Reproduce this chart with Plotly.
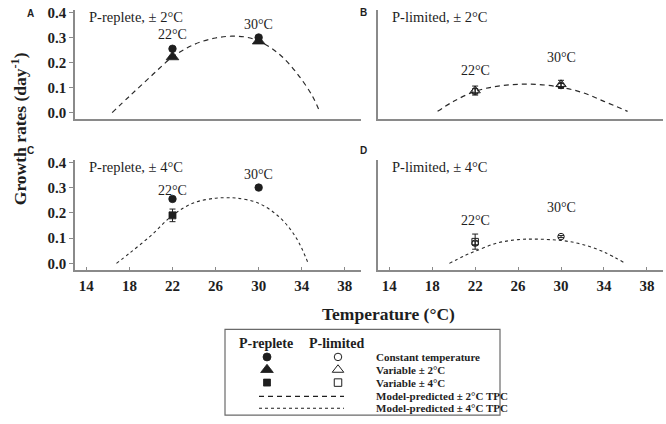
import plotly.graph_objects as go

# ---------------- data ----------------
temps = [22, 30]
temp_labels = ["22°C", "30°C"]

# Panel A: P-replete, +/-2
A_const = [0.255, 0.300]
A_var2 = [0.222, 0.285]
A_var2_err = [0.006, 0.006]
# Panel B: P-limited, +/-2
B_const = [0.085, 0.108]
B_const_err = [0.010, 0.008]
B_var2 = [0.088, 0.113]
B_var2_err = [0.018, 0.016]
# Panel C: P-replete, +/-4
C_const = [0.255, 0.300]
C_var4_T = [22]
C_var4 = [0.190]
C_var4_err = [0.025]
# Panel D: P-limited, +/-4
D_const = [0.080, 0.106]
D_const_err = [0.008, 0.004]
D_var4_T = [22]
D_var4 = [0.086]
D_var4_err = [0.030]

# Model-predicted TPC curves
curveA_T = [16.4, 18, 20, 22, 24, 26, 27.5, 29, 30.5, 32, 33.5, 35, 35.7]
curveA_y = [0.0, 0.065, 0.145, 0.222, 0.272, 0.298, 0.305, 0.300, 0.275, 0.230, 0.160, 0.065, 0.0]
curveB_T = [18.5, 20, 22, 24, 26, 28, 30, 32, 34, 36.2]
curveB_y = [0.005, 0.045, 0.085, 0.105, 0.113, 0.112, 0.101, 0.080, 0.045, 0.005]
curveC_T = [16.8, 18, 20, 22, 24, 26, 27, 28, 30, 32, 33.5, 34.6]
curveC_y = [0.0, 0.040, 0.110, 0.190, 0.240, 0.258, 0.260, 0.258, 0.238, 0.180, 0.100, 0.0]
curveD_T = [19.6, 21, 22, 24, 26, 27.5, 29, 30.5, 32, 34, 36]
curveD_y = [0.0, 0.030, 0.048, 0.080, 0.094, 0.096, 0.094, 0.088, 0.075, 0.045, 0.0]

x_ticks = [14, 18, 22, 26, 30, 34, 38]
y_ticks = [0.0, 0.1, 0.2, 0.3, 0.4]
y_ticktext = ["0.0", "0.1", "0.2", "0.3", "0.4"]

panel_titles = ["P-replete, ± 2°C", "P-limited, ± 2°C", "P-replete, ± 4°C", "P-limited, ± 4°C"]
panel_letters = ["A", "B", "C", "D"]
label_y = [[0.31, 0.35], [0.17, 0.22], [0.29, 0.35], [0.17, 0.22]]

legend_rows = ["Constant temperature", "Variable ± 2°C", "Variable ± 4°C",
               "Model-predicted ± 2°C TPC", "Model-predicted ± 4°C TPC"]

# ---------------- style ----------------
W, H = 666, 424
SERIF = "Liberation Serif"
INK = "#1e1e1e"
AXC = "#8a8a8a"

def px(x):
    return x / W

def py(y):
    return 1 - y / H

fig = go.Figure()

axes = [("x", "y"), ("x2", "y2"), ("x3", "y3"), ("x4", "y4")]

def add_curve(i, T, Y, dash):
    xa, ya = axes[i]
    fig.add_trace(go.Scatter(x=T, y=Y, mode="lines", xaxis=xa, yaxis=ya,
                             line=dict(color="#2a2a2a", width=1.2 if dash != "dot" else 1.1,
                                       dash=dash, shape="spline", smoothing=1.0),
                             showlegend=False, hoverinfo="skip"))

def add_pts(i, T, Y, symbol, size, err=None, lw=1.2):
    xa, ya = axes[i]
    kw = {}
    if err is not None:
        kw["error_y"] = dict(type="data", array=err, visible=True, color=INK, thickness=1, width=3)
    fig.add_trace(go.Scatter(x=T, y=Y, mode="markers", xaxis=xa, yaxis=ya,
                             marker=dict(symbol=symbol, size=size, color=INK,
                                         line=dict(color=INK, width=lw)),
                             showlegend=False, hoverinfo="skip", **kw))

DASH2 = "5px,4px"
add_curve(0, curveA_T, curveA_y, DASH2)
add_curve(1, curveB_T, curveB_y, DASH2)
add_curve(2, curveC_T, curveC_y, "dot")
add_curve(3, curveD_T, curveD_y, "dot")

# A
add_pts(0, temps, A_var2, "triangle-up", 11, A_var2_err, 0.8)
add_pts(0, temps, A_const, "circle", 7.5, None, 0.8)
# B
add_pts(1, temps, B_var2, "triangle-up-open", 9, B_var2_err, 1)
add_pts(1, temps, B_const, "circle-open", 6.5, B_const_err, 1)
# C
add_pts(2, C_var4_T, C_var4, "square", 7, C_var4_err, 0.8)
add_pts(2, temps, C_const, "circle", 7.5, None, 0.8)
# D
add_pts(3, D_var4_T, D_var4, "square-open", 6.5, D_var4_err, 1)
add_pts(3, temps, D_const, "circle-open", 6.5, D_const_err, 1)

# ---------------- legend (hidden pixel axes) ----------------
LX0, LX1, LY0, LY1 = 225, 500, 329, 416
leg_col_rep, leg_col_lim, leg_text_x = 267, 338, 374
row_y = [357, 370, 383, 397, 409]
leg_syms = [("circle", "circle-open", 8, 7.5),
            ("triangle-up", "triangle-up-open", 11, 10),
            ("square", "square-open", 7, 7.5)]
for k, (s_full, s_open, sz1, sz2) in enumerate(leg_syms):
    fig.add_trace(go.Scatter(x=[leg_col_rep], y=[row_y[k]], mode="markers", xaxis="x5", yaxis="y5",
                             marker=dict(symbol=s_full, size=sz1, color=INK, line=dict(color=INK, width=0.8)),
                             showlegend=False, hoverinfo="skip"))
    fig.add_trace(go.Scatter(x=[leg_col_lim], y=[row_y[k]], mode="markers", xaxis="x5", yaxis="y5",
                             marker=dict(symbol=s_open, size=sz2, color=INK, line=dict(color=INK, width=1)),
                             showlegend=False, hoverinfo="skip"))
fig.add_trace(go.Scatter(x=[259, 344], y=[row_y[3], row_y[3]], mode="lines", xaxis="x5", yaxis="y5",
                         line=dict(color=INK, width=1.2, dash=DASH2), showlegend=False, hoverinfo="skip"))
fig.add_trace(go.Scatter(x=[259, 344], y=[row_y[4], row_y[4]], mode="lines", xaxis="x5", yaxis="y5",
                         line=dict(color=INK, width=1.1, dash="dot"), showlegend=False, hoverinfo="skip"))

# ---------------- layout ----------------
xdom_left = [px(75), px(361)]
xdom_right = [px(378), px(663)]
ydom_top = [py(116), py(5)]
ydom_bot = [py(269), py(157)]
xrange = [12.95, 39.5]
yrange = [-0.027, 0.41]

tickfont = dict(family=SERIF, size=15, color=INK, weight="bold")

def xax(dom, anchor, labels):
    d = dict(domain=dom, anchor=anchor, range=xrange, showline=True, linecolor=AXC, linewidth=1.5,
             showgrid=False, zeroline=False, tickvals=x_ticks, fixedrange=True)
    if labels:
        d.update(ticks="inside", ticklen=3, tickcolor=AXC, showticklabels=True,
                 tickfont=tickfont, ticklabelstandoff=1, ticklabeloverflow="allow")
    else:
        d.update(ticks="", showticklabels=False)
    return d

def yax(dom, anchor, labels):
    d = dict(domain=dom, anchor=anchor, range=yrange, showline=True, linecolor=AXC, linewidth=1.5,
             showgrid=False, zeroline=False, tickvals=y_ticks, ticktext=y_ticktext, fixedrange=True)
    if labels:
        d.update(ticks="outside", ticklen=4, tickcolor=AXC, showticklabels=True, tickfont=tickfont)
    else:
        d.update(ticks="", showticklabels=False)
    return d

annotations = []
panel_x0 = [75, 378, 75, 378]
panel_ytop = [5, 5, 157, 157]
letter_x = [30, 363, 30, 363]
letter_y = [9, 8, 148, 148]
for i in range(4):
    xa, ya = axes[i]
    annotations.append(dict(text=panel_titles[i], x=px(panel_x0[i] + 12), y=py(panel_ytop[i] + 7),
                            xref="paper", yref="paper", xanchor="left", yanchor="middle",
                            showarrow=False, font=dict(family=SERIF, size=14.5, color=INK)))
    annotations.append(dict(text="<b>" + panel_letters[i] + "</b>", x=px(letter_x[i]), y=py(letter_y[i]),
                            xref="paper", yref="paper", xanchor="center", yanchor="middle",
                            showarrow=False, font=dict(family="Liberation Sans", size=10, color=INK)))
    for t, lab, yy in zip(temps, temp_labels, label_y[i]):
        annotations.append(dict(text=lab, x=t, y=yy, xref=xa, yref=ya, showarrow=False,
                                xanchor="center", yanchor="middle",
                                font=dict(family=SERIF, size=14, color=INK)))

annotations.append(dict(text="<b>Temperature (°C)</b>", x=px(388), y=py(313), xref="paper", yref="paper",
                        showarrow=False, xanchor="center", yanchor="middle",
                        font=dict(family=SERIF, size=17.5, color=INK)))
annotations.append(dict(text="<b>Growth rates (day<sup>-1</sup>)</b>", x=px(19), y=py(126),
                        xref="paper", yref="paper", textangle=-90,
                        showarrow=False, xanchor="center", yanchor="middle",
                        font=dict(family=SERIF, size=17.5, color=INK)))
# legend text
annotations.append(dict(text="<b>P-replete</b>", x=266, y=343, xref="x5", yref="y5", showarrow=False,
                        xanchor="center", yanchor="middle", font=dict(family=SERIF, size=14, color=INK)))
annotations.append(dict(text="<b>P-limited</b>", x=336, y=343, xref="x5", yref="y5", showarrow=False,
                        xanchor="center", yanchor="middle", font=dict(family=SERIF, size=14, color=INK)))
for r, txt in zip(row_y, legend_rows):
    annotations.append(dict(text="<b>" + txt + "</b>", x=leg_text_x, y=r, xref="x5", yref="y5",
                            showarrow=False, xanchor="left", yanchor="middle",
                            font=dict(family=SERIF, size=11, color=INK)))

shapes = [dict(type="rect", xref="paper", yref="paper", x0=px(LX0), x1=px(LX1), y0=py(LY1), y1=py(LY0),
               line=dict(color="#6a6a6a", width=1.2), fillcolor="rgba(0,0,0,0)")]

fig.update_layout(
    width=W, height=H, margin=dict(l=0, r=0, t=0, b=0),
    paper_bgcolor="white", plot_bgcolor="white",
    xaxis=xax(xdom_left, "y", False), yaxis=yax(ydom_top, "x", True),
    xaxis2=xax(xdom_right, "y2", False), yaxis2=yax(ydom_top, "x2", False),
    xaxis3=xax(xdom_left, "y3", True), yaxis3=yax(ydom_bot, "x3", True),
    xaxis4=xax(xdom_right, "y4", True), yaxis4=yax(ydom_bot, "x4", False),
    xaxis5=dict(domain=[px(LX0), px(LX1)], range=[LX0, LX1], visible=False, anchor="y5", fixedrange=True),
    yaxis5=dict(domain=[py(LY1), py(LY0)], range=[LY1, LY0], visible=False, anchor="x5", fixedrange=True),
    annotations=annotations, shapes=shapes, showlegend=False,
)

fig.write_html("out.html", config={"displayModeBar": False},
               post_script="document.body.style.margin='0';")
